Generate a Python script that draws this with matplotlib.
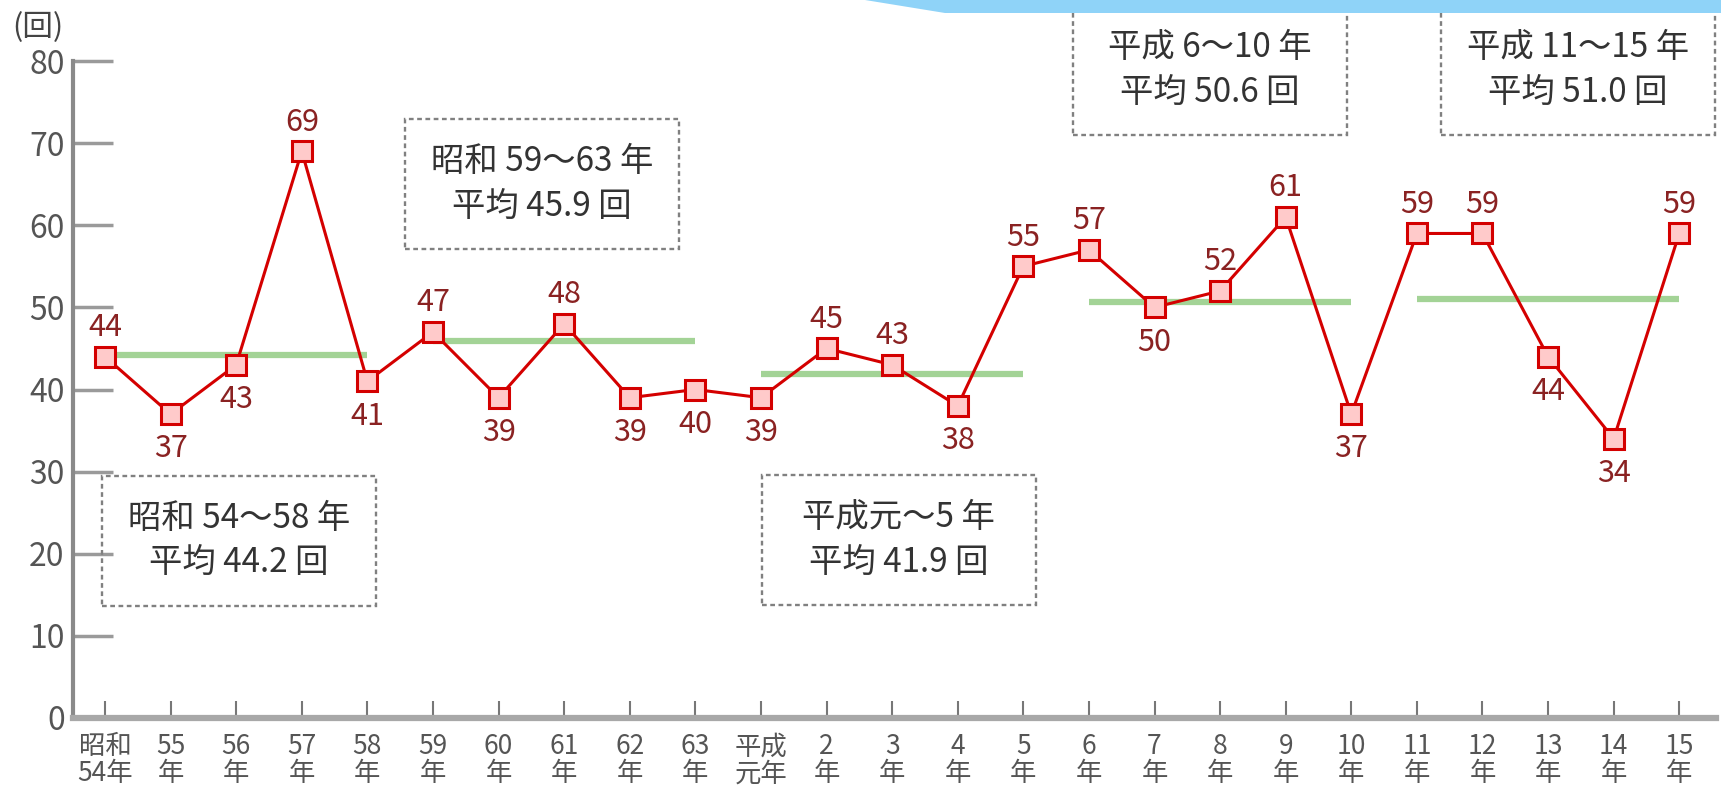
import numpy as np
import matplotlib
matplotlib.use('Agg')
import matplotlib.pyplot as plt
from matplotlib.patches import Rectangle, Polygon

plt.rcParams['font.family'] = ['Noto Sans CJK JP', 'DejaVu Sans']

# yearly counts, 昭和54年 .. 平成15年
years = ['昭和\n54年', '55\n年', '56\n年', '57\n年', '58\n年', '59\n年', '60\n年',
         '61\n年', '62\n年', '63\n年', '平成\n元年', '2\n年', '3\n年', '4\n年', '5\n年',
         '6\n年', '7\n年', '8\n年', '9\n年', '10\n年', '11\n年', '12\n年', '13\n年',
         '14\n年', '15\n年']
counts = [44, 37, 43, 69, 41, 47, 39, 48, 39, 40, 39, 45, 43, 38, 55,
          57, 50, 52, 61, 37, 59, 59, 44, 34, 59]
label_above = [1, 0, 0, 1, 0, 1, 0, 1, 0, 0, 0, 1, 1, 0, 1,
               1, 0, 1, 1, 0, 1, 1, 0, 0, 1]

# five-year periods: first index, last index, average, caption
period_start = [0, 5, 10, 15, 20]
period_end = [4, 9, 14, 19, 24]
period_avg = [44.2, 45.9, 41.9, 50.6, 51.0]
period_name = ['昭和 54～58 年', '昭和 59～63 年', '平成元～5 年',
               '平成 6～10 年', '平成 11～15 年']
# caption box centres (x in year index, y in counts)
box_x = [2.04, 6.66, 12.1, 16.84, 22.45]
box_y = [21.6, 65.0, 21.7, 78.9, 78.9]

W, H = 1721, 797
fig = plt.figure(figsize=(W / 100, H / 100), dpi=100)
ax = fig.add_axes([73 / W, 79 / H, 1643 / W, 657 / H])

x = np.arange(len(counts))

for s, e, a in zip(period_start, period_end, period_avg):
    ax.hlines(a, s, e, color='#a3d396', lw=4.5, zorder=2)

ax.plot(x, counts, color='#d40000', lw=2.2, marker='s', ms=15,
        mfc='#ffcaca', mec='#d40000', mew=2.2, zorder=3)

for xi, v, up in zip(x, counts, label_above):
    ax.annotate(str(v), (xi, v), xytext=(0, 21 if up else -25),
                textcoords='offset points', ha='center', va='center',
                fontsize=22, color='#8a2222')

# dotted caption boxes
bw, bh = 274 / 65.6, 130 / 8.21
for name, avg, bx, by in zip(period_name, period_avg, box_x, box_y):
    ax.add_patch(Rectangle((bx - bw / 2, by - bh / 2), bw, bh, fill=False,
                           ec='#808080', lw=1.7, ls=(0, (2, 1.5)),
                           clip_on=False, zorder=4))
    ax.text(bx, by, name + '\n平均 %.1f 回' % avg, ha='center', va='center',
            fontsize=24, color='#333333', linespacing=1.35, clip_on=False)

ax.set_xlim(-0.488, 24.56)
ax.set_ylim(0, 80)
ax.set_xticks(x)
ax.set_xticklabels(years, fontsize=19, color='#555555', linespacing=1.0)
ax.set_yticks(range(0, 81, 10))
ax.set_yticklabels([str(v) for v in range(0, 81, 10)], fontsize=23, color='#555555')

for side in ('top', 'right'):
    ax.spines[side].set_visible(False)
ax.spines['left'].set_color('#8a8a8a')
ax.spines['left'].set_linewidth(3)
ax.spines['bottom'].set_color('#a8a8a8')
ax.spines['bottom'].set_linewidth(4.5)
ax.tick_params(axis='y', direction='in', length=29, width=2.5, color='#9a9a9a', pad=6)
ax.tick_params(axis='x', direction='in', length=12, width=1.5, color='#777777', pad=11)

fig.text(12 / W, 1 - 28 / H, '(回)', ha='left', va='center', fontsize=22, color='#444444')

# light blue strip along the top edge
fig.patches.append(Polygon([(865 / W, 1), (945 / W, 1 - 13 / H), (1, 1 - 13 / H), (1, 1)],
                           closed=True, transform=fig.transFigure, fc='#8fd3f8',
                           ec='none', zorder=0))

fig.savefig('out.png', dpi=100)
